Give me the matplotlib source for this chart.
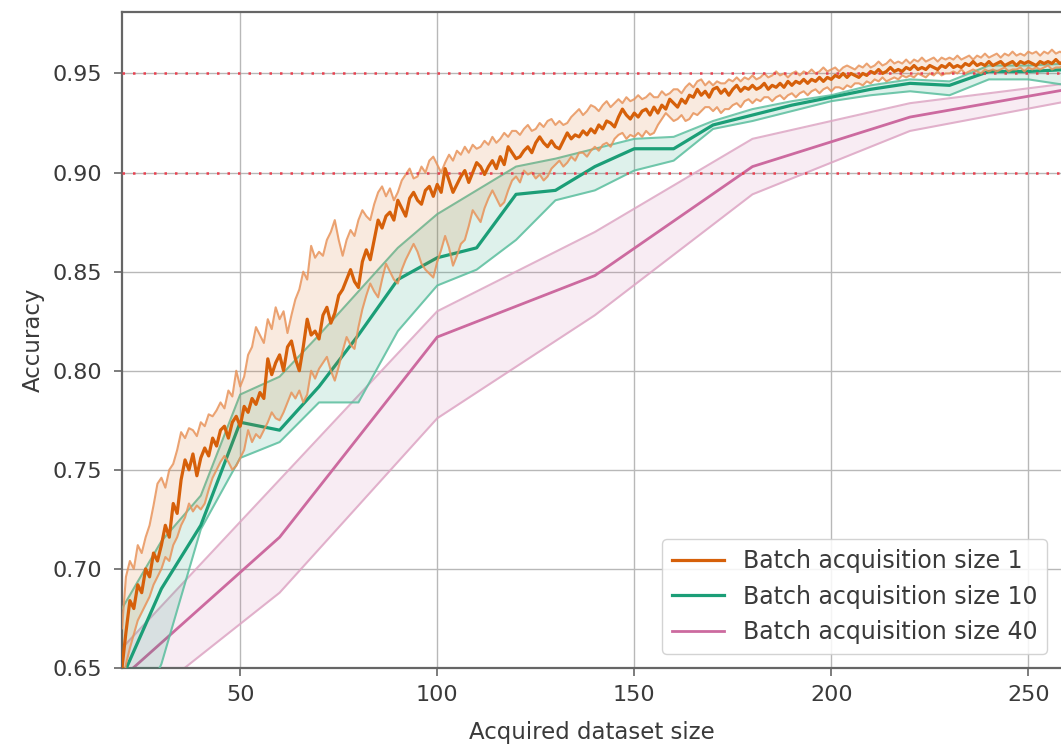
import numpy as np
import matplotlib
matplotlib.use("Agg")
import matplotlib.pyplot as plt

# ---------------- data ----------------
size1_x = list(range(20, 261))
size1_mean = [
    0.650, 0.668, 0.684, 0.680, 0.692, 0.688, 0.700, 0.696, 0.708, 0.704,
    0.712, 0.722, 0.716, 0.733, 0.728, 0.745, 0.755, 0.750, 0.758, 0.747,
    0.756, 0.761, 0.757, 0.766, 0.762, 0.770, 0.772, 0.766, 0.774, 0.777,
    0.772, 0.782, 0.779, 0.786, 0.783, 0.789, 0.786, 0.806, 0.798, 0.804,
    0.808, 0.800, 0.812, 0.815, 0.806, 0.800, 0.812, 0.826, 0.818, 0.820,
    0.816, 0.828, 0.832, 0.824, 0.829, 0.838, 0.841, 0.846, 0.851, 0.845,
    0.842, 0.855, 0.861, 0.856, 0.866, 0.876, 0.872, 0.878, 0.880, 0.876,
    0.886, 0.882, 0.878, 0.887, 0.890, 0.886, 0.884, 0.891, 0.893, 0.888,
    0.894, 0.890, 0.902, 0.896, 0.890, 0.894, 0.898, 0.901, 0.895, 0.900,
    0.905, 0.903, 0.899, 0.903, 0.906, 0.902, 0.908, 0.904, 0.913, 0.910,
    0.907, 0.908, 0.911, 0.913, 0.910, 0.915, 0.918, 0.915, 0.913, 0.916,
    0.913, 0.912, 0.916, 0.920, 0.917, 0.919, 0.918, 0.921, 0.919, 0.922,
    0.920, 0.924, 0.922, 0.926, 0.925, 0.923, 0.928, 0.932, 0.929, 0.927,
    0.930, 0.928, 0.931, 0.932, 0.929, 0.933, 0.930, 0.934, 0.932, 0.937,
    0.935, 0.933, 0.937, 0.935, 0.939, 0.938, 0.942, 0.939, 0.941, 0.938,
    0.942, 0.943, 0.940, 0.942, 0.939, 0.942, 0.944, 0.941, 0.943, 0.942,
    0.944, 0.942, 0.943, 0.945, 0.942, 0.944, 0.943, 0.945, 0.943, 0.946,
    0.944, 0.946, 0.945, 0.947, 0.945, 0.947, 0.946, 0.948, 0.946, 0.948,
    0.947, 0.949, 0.948, 0.950, 0.948, 0.950, 0.949, 0.948, 0.950, 0.949,
    0.951, 0.950, 0.952, 0.950, 0.951, 0.953, 0.951, 0.952, 0.951, 0.953,
    0.952, 0.954, 0.952, 0.953, 0.952, 0.954, 0.953, 0.952, 0.954, 0.953,
    0.955, 0.953, 0.954, 0.953, 0.955, 0.954, 0.956, 0.954, 0.955, 0.954,
    0.956, 0.954, 0.955, 0.956, 0.954, 0.955, 0.956, 0.954, 0.956, 0.955,
    0.956, 0.955, 0.954, 0.956, 0.955, 0.956, 0.955, 0.957, 0.955, 0.956,
    0.955,
]
size1_upper = [
    0.670, 0.696, 0.704, 0.700, 0.712, 0.708, 0.716, 0.722, 0.732, 0.743,
    0.746, 0.741, 0.750, 0.753, 0.760, 0.769, 0.766, 0.771, 0.770, 0.767,
    0.774, 0.772, 0.778, 0.777, 0.780, 0.784, 0.781, 0.790, 0.787, 0.800,
    0.792, 0.797, 0.808, 0.812, 0.822, 0.818, 0.814, 0.826, 0.821, 0.832,
    0.826, 0.830, 0.819, 0.828, 0.836, 0.841, 0.850, 0.846, 0.863, 0.857,
    0.860, 0.858, 0.866, 0.870, 0.876, 0.866, 0.858, 0.866, 0.871, 0.868,
    0.876, 0.881, 0.878, 0.876, 0.884, 0.890, 0.893, 0.888, 0.892, 0.886,
    0.890, 0.896, 0.899, 0.902, 0.897, 0.898, 0.903, 0.900, 0.906, 0.908,
    0.904, 0.900, 0.905, 0.909, 0.906, 0.911, 0.909, 0.913, 0.910, 0.914,
    0.912, 0.913, 0.916, 0.914, 0.918, 0.915, 0.917, 0.920, 0.918, 0.921,
    0.921, 0.919, 0.922, 0.924, 0.921, 0.922, 0.925, 0.923, 0.926, 0.927,
    0.924, 0.926, 0.924, 0.925, 0.928, 0.930, 0.932, 0.929, 0.931, 0.934,
    0.933, 0.931, 0.934, 0.936, 0.933, 0.935, 0.937, 0.935, 0.938, 0.936,
    0.937, 0.939, 0.937, 0.938, 0.940, 0.938, 0.938, 0.941, 0.939, 0.940,
    0.942, 0.942, 0.940, 0.943, 0.945, 0.943, 0.946, 0.947, 0.944, 0.946,
    0.944, 0.946, 0.945, 0.945, 0.947, 0.946, 0.948, 0.946, 0.948, 0.947,
    0.949, 0.947, 0.948, 0.950, 0.948, 0.949, 0.951, 0.949, 0.950, 0.948,
    0.950, 0.951, 0.949, 0.951, 0.950, 0.952, 0.950, 0.951, 0.953, 0.951,
    0.952, 0.953, 0.951, 0.953, 0.954, 0.953, 0.952, 0.954, 0.953, 0.955,
    0.953, 0.954, 0.956, 0.954, 0.955, 0.957, 0.955, 0.956, 0.955, 0.957,
    0.955, 0.957, 0.956, 0.958, 0.956, 0.957, 0.958, 0.956, 0.958, 0.957,
    0.958, 0.957, 0.959, 0.957, 0.958, 0.959, 0.957, 0.959, 0.958, 0.960,
    0.958, 0.959, 0.960, 0.958, 0.960, 0.959, 0.961, 0.959, 0.960, 0.959,
    0.961, 0.960, 0.961, 0.959, 0.961, 0.960, 0.962, 0.960, 0.961, 0.960,
    0.961,
]
size1_lower = [
    0.640, 0.652, 0.660, 0.667, 0.674, 0.678, 0.682, 0.686, 0.692, 0.696,
    0.700, 0.706, 0.704, 0.712, 0.716, 0.722, 0.726, 0.733, 0.729, 0.732,
    0.730, 0.733, 0.740, 0.746, 0.750, 0.754, 0.757, 0.754, 0.750, 0.752,
    0.756, 0.760, 0.770, 0.764, 0.768, 0.766, 0.770, 0.774, 0.779, 0.776,
    0.775, 0.779, 0.784, 0.789, 0.786, 0.790, 0.784, 0.788, 0.800, 0.796,
    0.801, 0.804, 0.807, 0.800, 0.795, 0.802, 0.810, 0.817, 0.813, 0.811,
    0.822, 0.831, 0.838, 0.844, 0.840, 0.837, 0.846, 0.854, 0.850, 0.846,
    0.844, 0.851, 0.856, 0.860, 0.864, 0.860, 0.854, 0.851, 0.849, 0.847,
    0.855, 0.861, 0.868, 0.862, 0.853, 0.858, 0.864, 0.866, 0.873, 0.881,
    0.878, 0.875, 0.882, 0.887, 0.891, 0.887, 0.883, 0.885, 0.891, 0.896,
    0.898, 0.895, 0.901, 0.899, 0.900, 0.897, 0.899, 0.896, 0.898, 0.902,
    0.904, 0.906, 0.903, 0.905, 0.908, 0.906, 0.910, 0.910, 0.908, 0.911,
    0.913, 0.911, 0.914, 0.915, 0.913, 0.917, 0.919, 0.920, 0.917, 0.919,
    0.918, 0.920, 0.918, 0.921, 0.919, 0.920, 0.924, 0.927, 0.930, 0.928,
    0.926, 0.927, 0.929, 0.926, 0.927, 0.930, 0.929, 0.931, 0.933, 0.933,
    0.931, 0.933, 0.930, 0.932, 0.932, 0.934, 0.935, 0.933, 0.936, 0.937,
    0.935, 0.937, 0.936, 0.938, 0.938, 0.936, 0.938, 0.939, 0.937, 0.939,
    0.940, 0.938, 0.940, 0.941, 0.939, 0.941, 0.942, 0.940, 0.942, 0.943,
    0.941, 0.943, 0.943, 0.942, 0.944, 0.943, 0.945, 0.945, 0.944, 0.946,
    0.945, 0.947, 0.946, 0.948, 0.946, 0.947, 0.948, 0.947, 0.949, 0.948,
    0.949, 0.948, 0.950, 0.949, 0.948, 0.950, 0.949, 0.951, 0.949, 0.950,
    0.950, 0.951, 0.950, 0.952, 0.950, 0.951, 0.952, 0.951, 0.950, 0.952,
    0.951, 0.952, 0.951, 0.952, 0.953, 0.951, 0.952, 0.952, 0.953, 0.951,
    0.953, 0.952, 0.953, 0.952, 0.953, 0.954, 0.952, 0.953, 0.953, 0.954,
    0.953,
]

size10_x = [20, 30, 40, 50, 60, 70, 80, 90, 100, 110, 120, 130, 140,
            150, 160, 170, 180, 190, 200, 210, 220, 230, 240, 250, 260]
size10_mean = [0.645, 0.690, 0.722, 0.774, 0.770, 0.792, 0.818, 0.846, 0.857,
               0.862, 0.889, 0.891, 0.903, 0.912, 0.912, 0.924, 0.929, 0.934,
               0.938, 0.942, 0.945, 0.944, 0.951, 0.951, 0.952]
size10_upper = [0.680, 0.714, 0.737, 0.788, 0.797, 0.818, 0.840, 0.862, 0.879,
                0.891, 0.903, 0.907, 0.912, 0.917, 0.918, 0.926, 0.932, 0.936,
                0.939, 0.944, 0.947, 0.946, 0.954, 0.954, 0.955]
size10_lower = [0.610, 0.652, 0.720, 0.756, 0.764, 0.784, 0.784, 0.820, 0.843,
                0.851, 0.866, 0.886, 0.891, 0.901, 0.906, 0.922, 0.926, 0.931,
                0.936, 0.939, 0.941, 0.939, 0.947, 0.947, 0.944]

size40_x = [20, 60, 100, 140, 180, 220, 260]
size40_mean = [0.645, 0.716, 0.817, 0.848, 0.903, 0.928, 0.942]
size40_upper = [0.660, 0.745, 0.830, 0.870, 0.917, 0.935, 0.945]
size40_lower = [0.625, 0.688, 0.776, 0.828, 0.889, 0.921, 0.936]

labels = ["Batch acquisition size 1", "Batch acquisition size 10",
          "Batch acquisition size 40"]
ref_levels = [0.90, 0.95]
x_ticks = [50, 100, 150, 200, 250]
y_ticks = [0.65, 0.70, 0.75, 0.80, 0.85, 0.90, 0.95]

# ---------------- figure ----------------
TXT = "#3a3a3a"
plt.rcParams["font.family"] = ["DejaVu Sans"]
fig = plt.figure(figsize=(10.61, 7.44), dpi=100)
ax = fig.add_axes([122 / 1061, 1 - 668 / 744, 1 - 122 / 1061, (668 - 12) / 744])

series = [
    (size1_x, size1_mean, size1_upper, size1_lower, "#d6600a", "#e8935a", 0.13, 2.3, 4),
    (size10_x, size10_mean, size10_upper, size10_lower, "#1b9e77", "#5cbf9f", 0.14, 2.3, 3),
    (size40_x, size40_mean, size40_upper, size40_lower, "#cc6a9f", "#dda6c4", 0.12, 2.0, 2),
]
handles = []
for (xs, m, up, lo, col, bcol, falpha, lw, z), lab in zip(series, labels):
    ax.fill_between(xs, lo, up, color=col, alpha=falpha, lw=0, zorder=z)
    ax.plot(xs, up, color=bcol, lw=1.5, alpha=0.85, zorder=z)
    ax.plot(xs, lo, color=bcol, lw=1.5, alpha=0.85, zorder=z)
    h, = ax.plot(xs, m, color=col, lw=lw, zorder=z + 0.5, label=lab)
    handles.append(h)

for lvl in ref_levels:
    ax.axhline(lvl, color="#e8404f", lw=1.8, dashes=(1.0, 3.2), zorder=5)

ax.set_xlim(20, 258.3)
ax.set_ylim(0.65, 0.981)
ax.set_xticks(x_ticks)
ax.set_yticks(y_ticks)
ax.set_yticklabels([f"{v:.2f}" for v in y_ticks])
ax.grid(True, color="#b8b8b8", lw=1.0, zorder=0)
ax.set_axisbelow(True)

for s in ["left", "top", "bottom"]:
    ax.spines[s].set_color("#666666")
    ax.spines[s].set_linewidth(1.6)
ax.spines["right"].set_visible(False)

ax.tick_params(axis="both", direction="out", length=6, width=1.2,
               color="#666666", labelcolor=TXT, labelsize=16)
ax.tick_params(axis="y", pad=8)
ax.tick_params(axis="x", pad=6)

ax.set_xlabel("Acquired dataset size", fontsize=16.5, color=TXT, labelpad=12)
ax.set_ylabel("Accuracy", fontsize=16.5, color=TXT, labelpad=6)

leg = ax.legend(handles=handles, loc="lower right", fontsize=17,
                frameon=True, framealpha=0.85, edgecolor="#cccccc",
                borderaxespad=0.6, handlelength=2.2, labelspacing=0.5)
for t in leg.get_texts():
    t.set_color(TXT)
leg.set_zorder(10)

fig.savefig("out.png", dpi=100)
